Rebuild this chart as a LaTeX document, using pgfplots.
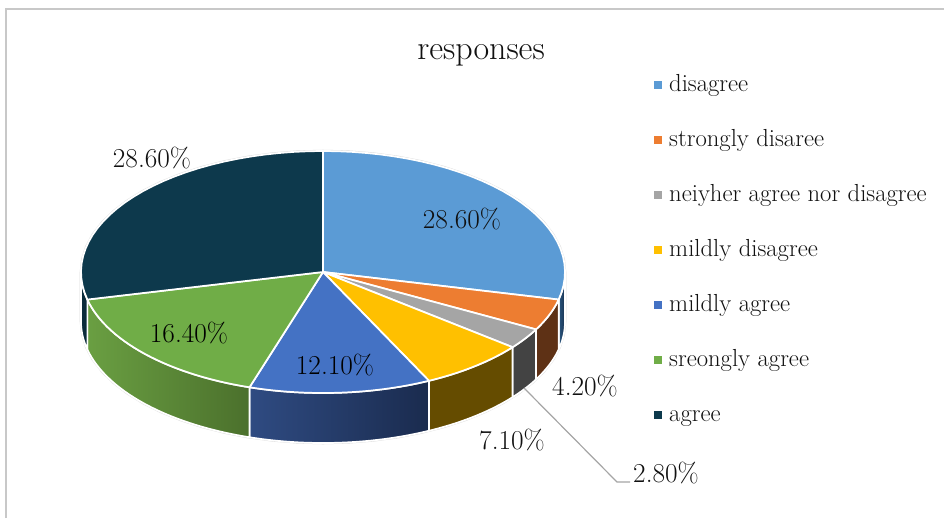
\documentclass[border=0pt]{standalone}
\usepackage{pgfplots}
\pgfplotsset{compat=1.18}
\definecolor{cA}{HTML}{5B9BD5}
\definecolor{cB}{HTML}{ED7D31}
\definecolor{cC}{HTML}{A5A5A5}
\definecolor{cD}{HTML}{FFC000}
\definecolor{cE}{HTML}{4472C4}
\definecolor{cF}{HTML}{70AD47}
\definecolor{cG}{HTML}{0D394C}
\definecolor{sAl}{HTML}{2A5680}\definecolor{sAr}{HTML}{1B3350}
\definecolor{sBl}{HTML}{5E3115}\definecolor{sBr}{HTML}{5E3115}
\definecolor{sCl}{HTML}{434343}\definecolor{sCr}{HTML}{434343}
\definecolor{sDl}{HTML}{654C00}\definecolor{sDr}{HTML}{654C00}
\definecolor{sEl}{HTML}{2F4B82}\definecolor{sEr}{HTML}{1A2B4E}
\definecolor{sFl}{HTML}{6A9F42}\definecolor{sFr}{HTML}{4B702C}
\definecolor{sGl}{HTML}{0A2B3B}\definecolor{sGr}{HTML}{0A2B3B}
\definecolor{frame}{HTML}{C8C8C8}
\definecolor{leader}{HTML}{A5A5A5}
\definecolor{rim}{HTML}{DADADA}
\definecolor{txt}{HTML}{111111}
\newcommand{\lbl}{\fontsize{20.5}{24}\selectfont}
% Pie geometry, in pixel-like axis units
\def\cx{323}\def\cy{272}\def\rx{242}\def\ry{121}\def\depth{50}
\def\total{99.8}
% Appends an elliptical arc between two angles (clockwise from the top) to \ptlist
\newcommand{\arcpts}[3]{%
  \pgfmathsetmacro\stepang{(#2-#1)/30}%
  \foreach \k in {0,...,30}{%
    \pgfmathsetmacro\ang{#1+\k*\stepang}%
    \pgfmathsetmacro\px{\cx+\rx*sin(\ang)}%
    \pgfmathsetmacro\py{\cy+#3-\ry*cos(\ang)}%
    \xdef\ptlist{\ptlist (\px,\py)}%
  }%
}
\begin{document}
\begin{tikzpicture}
\begin{axis}[
  scale only axis, width=708pt, height=388.5pt,
  xmin=0, xmax=944, ymin=0, ymax=518, y dir=reverse,
  hide axis, clip=false,
  legend style={draw=none, fill=none, at={(axis cs:654,70)}, anchor=north west,
    inner sep=0pt, outer sep=0pt, row sep=21.75pt, text=txt,
    font=\fontsize{18.5}{20}\selectfont},
  legend cell align=left,
  legend image code/.code={
    \fill[#1, draw=none] (0pt,-4.8pt) rectangle (6pt,1.2pt);
    \path[draw=none] (0pt,0pt) -- (9.4pt,0pt);
  },
]
% Chart frame, cut by the picture on its right and lower sides
\addplot[frame, line width=1.5pt, forget plot] coordinates {(6,518) (6,9) (944,9)};

% Faint outline around the whole pie
\gdef\ptlist{}
\arcpts{270}{450}{0}
\arcpts{90}{270}{\depth}
\edef\temp{\noexpand\addplot[forget plot, draw=rim, line width=1.9pt, line join=round]
  coordinates {\ptlist} -- cycle;}
\temp

% Side walls of the slices, on the visible front half only
\gdef\cum{0}
\foreach \val/\sideL/\sideR in {28.6/sAl/sAr, 4.2/sBl/sBr, 2.8/sCl/sCr, 7.1/sDl/sDr,
                        12.1/sEl/sEr, 16.4/sFl/sFr, 28.6/sGl/sGr}{
  \pgfmathsetmacro\angA{\cum/\total*360}
  \pgfmathsetmacro\nextcum{\cum+\val}
  \pgfmathsetmacro\angB{\nextcum/\total*360}
  \xdef\cum{\nextcum}
  \pgfmathsetmacro\sideA{max(\angA,90)}
  \pgfmathsetmacro\sideB{min(\angB,270)}
  \pgfmathtruncatemacro\vis{\sideB>\sideA ? 1 : 0}
  \ifnum\vis=1
    \gdef\ptlist{}
    \arcpts{\sideA}{\sideB}{0}
    \arcpts{\sideB}{\sideA}{\depth}
    \edef\temp{\noexpand\addplot[forget plot, draw=white, line width=1.3pt,
      left color=\sideL, right color=\sideR, line join=round]
      coordinates {\ptlist} -- cycle;}
    \temp
  \fi
}

% Top faces of the slices
\gdef\cum{0}
\foreach \val/\col in {28.6/cA, 4.2/cB, 2.8/cC, 7.1/cD, 12.1/cE, 16.4/cF, 28.6/cG}{
  \pgfmathsetmacro\angA{\cum/\total*360}
  \pgfmathsetmacro\nextcum{\cum+\val}
  \pgfmathsetmacro\angB{\nextcum/\total*360}
  \xdef\cum{\nextcum}
  \gdef\ptlist{(\cx,\cy)}
  \arcpts{\angA}{\angB}{0}
  \edef\temp{\noexpand\addplot[forget plot, draw=white, line width=1.3pt,
    fill=\col, line join=round] coordinates {\ptlist} -- cycle;}
  \temp
}

% Leader line of the smallest slice
\addplot[leader, line width=0.9pt, forget plot] coordinates {(524,388) (617,482) (630,482)};

% Legend
\addlegendimage{cA}\addlegendentry{\strut disagree}
\addlegendimage{cB}\addlegendentry{\strut strongly disaree}
\addlegendimage{cC}\addlegendentry{\strut neiyher agree nor disagree}
\addlegendimage{cD}\addlegendentry{\strut mildly disagree}
\addlegendimage{cE}\addlegendentry{\strut mildly agree}
\addlegendimage{cF}\addlegendentry{\strut sreongly agree}
\addlegendimage{cG}\addlegendentry{\strut agree}

% Title and value labels
\node[text=txt, font=\fontsize{25.5}{30}\selectfont] at (axis cs:481,55) {responses};
\node[text=txt, font=\lbl] at (axis cs:462,219.5) {28.60\%};
\node[text=txt, font=\lbl] at (axis cs:152,158) {28.60\%};
\node[text=black, font=\lbl] at (axis cs:189,333) {16.40\%};
\node[text=black, font=\lbl] at (axis cs:335,365.5) {12.10\%};
\node[text=txt, font=\lbl] at (axis cs:585,386.5) {4.20\%};
\node[text=txt, font=\lbl] at (axis cs:512,440) {7.10\%};
\node[text=txt, font=\lbl] at (axis cs:666,473) {2.80\%};
\end{axis}
% The page covers the full chart area
\pgfresetboundingbox
\path[use as bounding box] (0,0) rectangle (708pt,388.5pt);
\end{tikzpicture}
\end{document}
